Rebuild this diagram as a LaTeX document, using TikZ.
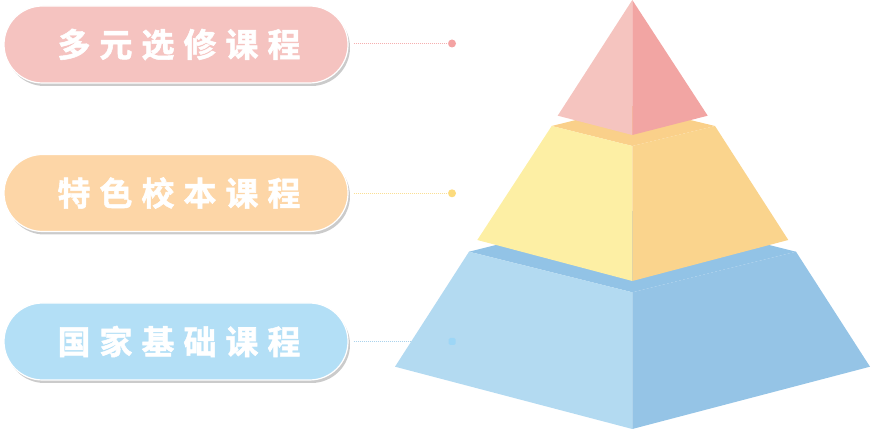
\documentclass[tikz,border=0pt]{standalone}
\usepackage{fontspec}
\newfontfamily\cjk{Noto Sans CJK SC Bold}[FakeBold=1.6]
\usetikzlibrary{shapes.misc,shadows}
\definecolor{pillA}{HTML}{F5C3C0}
\definecolor{pillB}{HTML}{FDD6A7}
\definecolor{pillC}{HTML}{B3DFF6}
\definecolor{dotA}{HTML}{F4A3A3}
\definecolor{dotB}{HTML}{FCDB7D}
\definecolor{dotC}{HTML}{9DD6F6}
\definecolor{lnA}{HTML}{F5B0B0}
\definecolor{lnB}{HTML}{FADF96}
\definecolor{lnC}{HTML}{ABD3EC}
\definecolor{topL}{HTML}{F5C4BF}
\definecolor{topR}{HTML}{F2A5A3}
\definecolor{midL}{HTML}{FDEFA4}
\definecolor{midR}{HTML}{FAD48D}
\definecolor{midT}{HTML}{FAD08A}
\definecolor{botL}{HTML}{B3DAF1}
\definecolor{botR}{HTML}{95C4E6}
\definecolor{botT}{HTML}{92C3E6}
\newcommand{\gp}{\hspace{9pt}}
\tikzset{
  pill/.style={rounded rectangle, minimum width=344pt, minimum height=77pt,
    draw=white, line width=1.2pt, inner sep=0pt,
    drop shadow={shadow xshift=2pt, shadow yshift=-3pt, fill=black!45, opacity=0.45},
    text=white, font=\cjk\fontsize{33}{33}\selectfont},
  dotnode/.style={circle, minimum size=8pt, inner sep=0pt},
  conn/.style={dash pattern=on 1pt off 1pt, line width=1pt, shorten <=5pt},
}
\begin{document}
\begin{tikzpicture}[x=1pt,y=-1pt]
\useasboundingbox (0,0) rectangle (871,430);
% pills
\node[pill, fill=pillA] (p1) at (176,44.5) {\hspace{6pt}多\gp 元\gp 选\gp 修\gp 课\gp 程};
\node[pill, fill=pillB] (p2) at (176,193) {\hspace{6pt}特\gp 色\gp 校\gp 本\gp 课\gp 程};
\node[pill, fill=pillC] (p3) at (176,341.5) {\hspace{6pt}国\gp 家\gp 基\gp 础\gp 课\gp 程};
% dots
\node[dotnode, fill=dotA] (d1) at (452,43.5) {};
\node[dotnode, fill=dotB] (d2) at (452,193.3) {};
\coordinate (d3) at (452,341.5);
\draw[conn, lnA] (p1.east |- d1) -- (d1);
\draw[conn, lnB] (p2.east |- d2) -- (d2);
\draw[conn, lnC] (p3.east |- d3) -- (d3);
% pyramid bottom tier
\fill[botT] (469,251.7) -- (632.3,211) -- (796,251.7) -- (632.3,292.3) -- cycle;
\fill[botL] (469,251.7) -- (632.3,292.3) -- (632.3,429) -- (395,366.7) -- cycle;
\fill[botR] (632.3,292.3) -- (796,251.7) -- (870,366.7) -- (632.3,429) -- cycle;
% middle tier
\fill[midT] (551.7,126) -- (632.3,106) -- (715,126) -- (632.3,146) -- cycle;
\fill[midL] (551.7,126) -- (632.3,146) -- (632.3,281) -- (477.3,240) -- cycle;
\fill[midR] (632.3,146) -- (715,126) -- (788.3,240) -- (632.3,281) -- cycle;
% top tier
\fill[topL] (632.3,0) -- (557.7,115.7) -- (632.3,135) -- cycle;
\fill[topR] (632.3,0) -- (632.3,135) -- (707.7,115.7) -- cycle;
% faint blue dot over the pyramid
\node[dotnode, fill=dotC, rounded corners=1.5pt, rectangle, minimum size=7pt] (d3n) at (d3) {};
\end{tikzpicture}
\end{document}
